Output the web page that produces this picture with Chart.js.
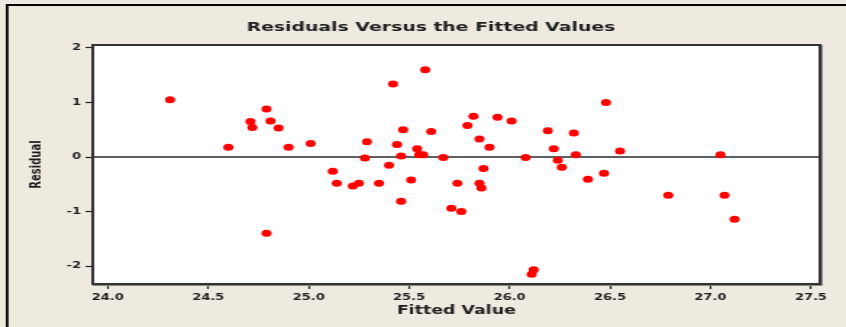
<!DOCTYPE html>
<html>
<head>
<meta charset="utf-8">
<script src="https://cdn.jsdelivr.net/npm/chart.js@4/dist/chart.umd.min.js"></script>
<style>
  html, body { margin: 0; padding: 0; background: #eeeae0; overflow: hidden; }
  /* the plot is laid out on a narrow canvas and widened horizontally */
  #wrap { position: absolute; left: 0; top: 0; width: 584px; height: 327px;
          transform: scaleX(1.44863); transform-origin: 0 0; }
</style>
</head>
<body>
<div id="wrap"><canvas id="c"></canvas></div>
<script>
// Fitted values and their residuals
const fittedValues = [
  24.31, 24.79, 24.71, 24.72, 24.81, 24.85, 24.60, 24.90, 25.01, 25.29,
  25.28, 25.12, 25.14, 25.22, 25.25, 24.79, 25.58, 25.42, 25.82, 25.94,
  26.01, 25.79, 25.47, 25.61, 26.19, 26.32, 25.44, 25.85, 25.90, 25.54,
  25.55, 25.57, 26.22, 25.46, 25.67, 26.08, 26.33, 25.40, 25.87, 26.24,
  26.26, 25.35, 25.51, 25.74, 25.85, 25.86, 26.39, 25.46, 25.71, 25.76,
  26.12, 26.11, 26.48, 26.55, 27.05, 26.47, 26.79, 27.07, 27.12
];
const residuals = [
  1.05, 0.88, 0.65, 0.54, 0.66, 0.53, 0.18, 0.18, 0.25, 0.28,
  -0.02, -0.26, -0.48, -0.53, -0.48, -1.40, 1.60, 1.34, 0.75, 0.73,
  0.66, 0.58, 0.50, 0.47, 0.48, 0.44, 0.23, 0.33, 0.18, 0.15,
  0.04, 0.04, 0.15, 0.02, -0.01, -0.01, 0.04, -0.15, -0.21, -0.06,
  -0.19, -0.48, -0.42, -0.48, -0.48, -0.57, -0.41, -0.81, -0.94, -1.00,
  -2.07, -2.15, 1.00, 0.11, 0.04, -0.30, -0.70, -0.70, -1.14
];
const xTicks = [24.0, 24.5, 25.0, 25.5, 26.0, 26.5, 27.0, 27.5];
const yTicks = [-2, -1, 0, 1, 2];
const chartTitle = 'Residuals Versus the Fitted Values';
const xTitle = 'Fitted Value';
const yTitle = 'Residual';

const points = fittedValues.map((v, i) => ({ x: v, y: residuals[i] }));

const tickFont = { family: 'DejaVu Sans', size: 9, weight: 'bold' };
const inkColor = '#1e1e1e';

const framePlugin = {
  id: 'frame',
  beforeDraw(chart) {
    const { ctx, width, height, chartArea: a } = chart;
    ctx.save();
    ctx.fillStyle = '#eeeae0';
    ctx.fillRect(0, 0, width, height);
    // window frame along the top and left edges
    ctx.fillStyle = '#000';
    ctx.fillRect(4, 4, width - 4, 2);
    ctx.fillRect(4, 4, 1.8, height - 4);
    // white data region
    ctx.fillStyle = '#fff';
    ctx.fillRect(a.left, a.top, a.right - a.left, a.bottom - a.top);
    // title
    ctx.fillStyle = inkColor;
    ctx.font = 'bold 13px "DejaVu Sans"';
    ctx.textAlign = 'center';
    ctx.textBaseline = 'middle';
    ctx.fillText(chartTitle, 297.5, 28);
    ctx.restore();
  },
  beforeDatasetsDraw(chart) {
    const { ctx, chartArea: a, scales } = chart;
    const y0 = scales.y.getPixelForValue(0);
    ctx.save();
    ctx.strokeStyle = '#2a2a2a';
    ctx.lineWidth = 1.5;
    ctx.beginPath();
    ctx.moveTo(a.left, y0);
    ctx.lineTo(a.right, y0);
    ctx.stroke();
    ctx.restore();
  },
  afterDatasetsDraw(chart) {
    const { ctx, chartArea: a } = chart;
    ctx.save();
    ctx.strokeStyle = '#333';
    ctx.lineWidth = 2;
    ctx.strokeRect(a.left, a.top, a.right - a.left, a.bottom - a.top);
    // shadow on the right and bottom sides
    ctx.strokeStyle = '#888';
    ctx.lineWidth = 1;
    ctx.beginPath();
    ctx.moveTo(a.right + 1.5, a.top);
    ctx.lineTo(a.right + 1.5, a.bottom + 1.5);
    ctx.lineTo(a.left, a.bottom + 1.5);
    ctx.stroke();
    ctx.restore();
  }
};

new Chart(document.getElementById('c'), {
  type: 'scatter',
  data: {
    datasets: [{
      data: points,
      backgroundColor: '#ff0000',
      borderWidth: 0,
      pointStyle: 'circle',
      pointRadius: 3.5,
      pointHoverRadius: 3.5
    }]
  },
  options: {
    responsive: true,
    maintainAspectRatio: false,
    animation: false,
    events: [],
    layout: { padding: { top: 45, right: 18, bottom: 0, left: 0 } },
    plugins: {
      legend: { display: false },
      tooltip: { enabled: false },
      title: { display: false }
    },
    scales: {
      x: {
        type: 'linear',
        min: 23.925,
        max: 27.545,
        afterBuildTicks(scale) { scale.ticks = xTicks.map(v => ({ value: v })); },
        afterFit(scale) { scale.height = 43; },
        border: { display: false },
        grid: { display: true, drawOnChartArea: false, drawTicks: true,
                tickLength: 5, tickColor: '#222', tickWidth: 1.2 },
        ticks: { font: tickFont, color: inkColor, padding: 3, maxRotation: 0,
                 autoSkip: false, callback: v => Number(v).toFixed(1) },
        title: { display: true, text: xTitle, color: inkColor,
                 font: { family: 'DejaVu Sans', size: 12, weight: 'bold' },
                 padding: { top: 0, bottom: 8.5 } }
      },
      y: {
        type: 'linear',
        min: -2.33,
        max: 2.055,
        afterBuildTicks(scale) { scale.ticks = yTicks.map(v => ({ value: v })); },
        afterFit(scale) { scale.width = 64; },
        border: { display: false },
        grid: { display: true, drawOnChartArea: false, drawTicks: true,
                tickLength: 5, tickColor: '#222', tickWidth: 1.2 },
        ticks: { font: tickFont, color: inkColor, padding: 3,
                 callback: v => String(v) },
        title: { display: true, text: yTitle, color: inkColor,
                 font: { family: 'DejaVu Sans', size: 10, weight: 'bold' },
                 padding: { top: 19.5, bottom: 0 } }
      }
    }
  },
  plugins: [framePlugin]
});
</script>
</body>
</html>
